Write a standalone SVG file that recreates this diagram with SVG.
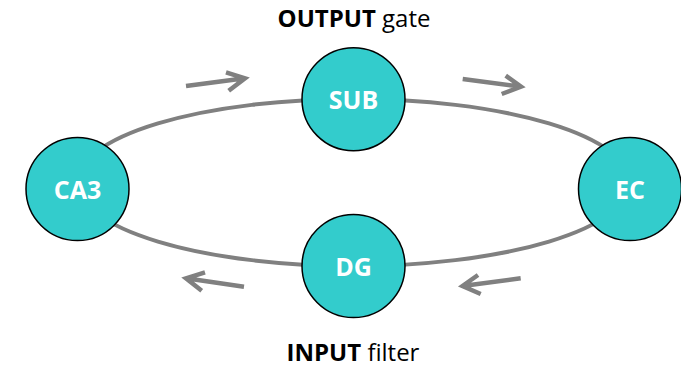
<svg xmlns="http://www.w3.org/2000/svg" width="681" height="368" viewBox="0 0 681 368">
  <style>
    .link { fill: none; stroke: #808080; stroke-width: 4; }
    .flow { fill: none; stroke: #808080; stroke-width: 4.5; stroke-linejoin: miter; }
    .node circle { fill: #33CCCC; stroke: #000; stroke-width: 1.5; }
    .node text { font-family: "Open Sans", "Liberation Sans", sans-serif; font-weight: bold; font-size: 25px; fill: #fff; text-anchor: middle; }
    .title { font-family: "Open Sans", "Liberation Sans", sans-serif; font-size: 24px; fill: #000; text-anchor: middle; }
    .title .b { font-weight: bold; }
  </style>
  <rect width="681" height="368" fill="#fff"/>

  <!-- loop connecting the four regions -->
  <g id="connectors">
    <path class="link" d="M77,182.5 A276.5,83.5 0 0 1 353.5,99"/>
    <path class="link" d="M353.5,99 A276.5,83.5 0 0 1 630,182.5"/>
    <path class="link" d="M630,182.5 A276.5,83.5 0 0 1 353.5,266"/>
    <path class="link" d="M353.5,266 A276.5,83.5 0 0 1 77,182.5"/>
  </g>

  <!-- direction of flow -->
  <g id="flow-arrows">
    <path class="flow" d="M186,86 L245,78.3 M226,72.3 L245,78.3 L228.7,90.7"/>
    <path class="flow" d="M462.7,79 L521,86.7 M505.7,75.7 L521,86.7 L501.7,94"/>
    <path class="flow" d="M244,286.7 L186,278.3 M205,272.3 L186,278.3 L201.7,290.7"/>
    <path class="flow" d="M520.7,278.3 L462.5,286 M478,275 L462.5,286 L480.7,294"/>
  </g>

  <g id="node-sub" class="node">
    <circle cx="353.5" cy="99.2" r="51.5"/>
    <text x="353.5" y="109">SUB</text>
  </g>
  <g id="node-ca3" class="node">
    <circle cx="77.5" cy="189" r="51.5"/>
    <text x="77.5" y="199">CA3</text>
  </g>
  <g id="node-ec" class="node">
    <circle cx="630" cy="189" r="51.5"/>
    <text x="630" y="199">EC</text>
  </g>
  <g id="node-dg" class="node">
    <circle cx="353.5" cy="266" r="51.5"/>
    <text x="353.5" y="276">DG</text>
  </g>

  <text class="title" x="354" y="27"><tspan class="b">OUTPUT</tspan> gate</text>
  <text class="title" x="353" y="361"><tspan class="b">INPUT</tspan> filter</text>
</svg>
